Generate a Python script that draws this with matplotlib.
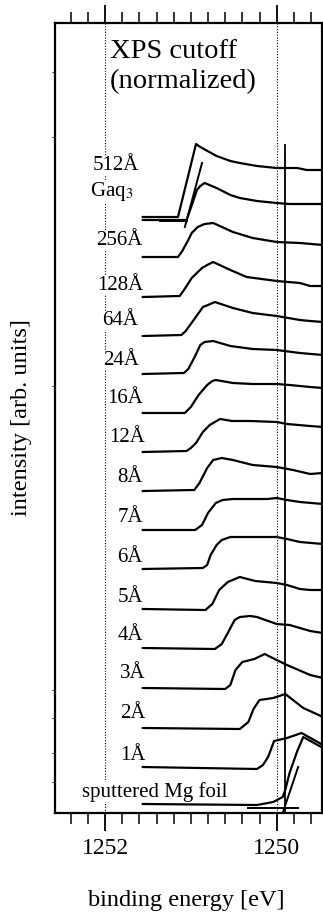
import matplotlib
matplotlib.use("Agg")
import matplotlib.pyplot as plt
from matplotlib.ticker import MultipleLocator, FixedLocator

plt.rcParams["font.family"] = ["Liberation Serif", "DejaVu Serif"]
plt.rcParams["mathtext.fontset"] = "stix"

# XPS cutoff spectra (normalized)
# energies in eV, intensities in arb. units above each curve's own baseline
e_512 = [1251.56, 1251.15, 1250.94, 1250.89, 1250.70, 1250.54, 1250.43, 1250.23, 1250.00, 1249.76, 1249.65, 1249.46]
i_512 = [0, 0, 73, 70, 61, 56, 54, 51, 49, 49, 47, 47]
e_gaq = [1251.56, 1251.05, 1250.98, 1250.93, 1250.89, 1250.84, 1250.70, 1250.54, 1250.43, 1250.23, 1250.00, 1249.85, 1249.46]
i_gaq = [0, 0, 17, 30, 34, 37, 32, 25, 22, 19, 17, 16, 16]
e_256 = [1251.56, 1251.15, 1251.10, 1251.03, 1250.99, 1250.92, 1250.84, 1250.74, 1250.51, 1250.28, 1250.00, 1249.73, 1249.46]
i_256 = [0, 0, 6, 17, 24, 30, 33, 34, 25, 19, 15, 14, 12]
e_128 = [1251.56, 1251.13, 1251.08, 1250.99, 1250.87, 1250.81, 1250.74, 1250.54, 1250.35, 1250.00, 1249.73, 1249.61, 1249.46]
i_128 = [0, 1, 7, 19, 29, 32, 35, 27, 20, 16, 14, 11, 11]
e_64 = [1251.56, 1251.11, 1251.06, 1250.95, 1250.86, 1250.80, 1250.72, 1250.51, 1250.28, 1250.00, 1249.73, 1249.61, 1249.46]
i_64 = [0, 1, 5, 18, 29, 31, 34, 28, 23, 20, 16, 15, 14]
e_24 = [1251.56, 1251.08, 1251.03, 1250.95, 1250.89, 1250.84, 1250.74, 1250.54, 1250.28, 1250.00, 1249.73, 1249.46]
i_24 = [0, 1, 5, 18, 29, 32, 33, 28, 25, 24, 21, 19]
e_16 = [1251.56, 1251.07, 1251.00, 1250.91, 1250.81, 1250.75, 1250.71, 1250.51, 1250.28, 1250.00, 1249.85, 1249.61, 1249.46]
i_16 = [0, 0, 6, 18, 28, 32, 33, 30, 29, 29, 28, 26, 25]
e_12 = [1251.56, 1251.05, 1251.00, 1250.94, 1250.86, 1250.78, 1250.66, 1250.52, 1250.31, 1250.00, 1249.88, 1249.61, 1249.46]
i_12 = [0, 1, 4, 9, 20, 27, 33, 31, 31, 30, 28, 26, 25]
e_8 = [1251.56, 1250.96, 1250.90, 1250.81, 1250.74, 1250.64, 1250.51, 1250.28, 1250.00, 1249.81, 1249.61, 1249.46]
i_8 = [0, 1, 8, 23, 31, 33, 31, 26, 24, 21, 17, 18]
e_7 = [1251.56, 1250.95, 1250.87, 1250.80, 1250.71, 1250.63, 1250.51, 1250.28, 1250.11, 1250.00, 1249.88, 1249.73, 1249.46]
i_7 = [0, 0, 5, 17, 27, 30, 31, 31, 31, 32, 30, 28, 26]
e_6 = [1251.56, 1250.86, 1250.81, 1250.77, 1250.70, 1250.64, 1250.54, 1250.28, 1250.00, 1249.88, 1249.73, 1249.46]
i_6 = [0, 1, 4, 14, 24, 29, 32, 32, 32, 30, 27, 25]
e_5 = [1251.56, 1250.83, 1250.75, 1250.67, 1250.57, 1250.43, 1250.25, 1250.00, 1249.88, 1249.73, 1249.61, 1249.46]
i_5 = [0, -1, 5, 19, 27, 32, 28, 26, 24, 20, 19, 19]
e_4 = [1251.56, 1250.72, 1250.64, 1250.57, 1250.49, 1250.43, 1250.31, 1250.23, 1250.00, 1249.85, 1249.61, 1249.46]
i_4 = [0, -1, 4, 15, 28, 31, 32, 31, 24, 23, 17, 15]
e_3 = [1251.56, 1250.60, 1250.54, 1250.48, 1250.40, 1250.26, 1250.14, 1250.00, 1249.88, 1249.61, 1249.46]
i_3 = [0, -1, 3, 18, 26, 29, 34, 28, 23, 13, 10]
e_2 = [1251.56, 1250.43, 1250.33, 1250.27, 1250.20, 1250.04, 1249.90, 1249.69, 1249.46]
i_2 = [0, -1, 6, 19, 28, 30, 34, 20, 11]
e_1 = [1251.56, 1250.23, 1250.16, 1250.10, 1250.03, 1249.88, 1249.71, 1249.46]
i_1 = [0, -2, 2, 10, 26, 29, 34, 22]
e_mg = [1251.56, 1250.23, 1250.04, 1249.93, 1249.90, 1249.85, 1249.76, 1249.69, 1249.46]
i_mg = [0, -1, 2, 7, 14, 31, 53, 67, 56]

spectra = [e_512, e_gaq, e_256, e_128, e_64, e_24, e_16, e_12, e_8, e_7, e_6, e_5, e_4, e_3, e_2, e_1, e_mg]
intensities = [i_512, i_gaq, i_256, i_128, i_64, i_24, i_16, i_12, i_8, i_7, i_6, i_5, i_4, i_3, i_2, i_1, i_mg]
offsets = [596, 593, 556, 516, 477, 439, 400, 361, 322, 283, 244, 204, 165, 125, 85, 46, 9]
labels = ["512Å", "Gaq$_3$", "256Å", "128Å", "64Å", "24Å", "16Å", "12Å", "8Å", "7Å", "6Å", "5Å", "4Å", "3Å", "2Å", "1Å", "sputtered Mg foil"]
label_e = [1251.61, 1251.67, 1251.56, 1251.56, 1251.62, 1251.61, 1251.56, 1251.53, 1251.56, 1251.56, 1251.56, 1251.56, 1251.56, 1251.53, 1251.53, 1251.53, 1252.27]
label_dy = [47, 24, 12, 7, 11, 9, 10, 10, 9, 8, 7, 7, 8, 10, 10, 7, 7]

# linear extrapolations of the onset (Gaq3 and Mg foil)
gaq_tan_e = [1251.07, 1250.87]
gaq_tan_i = [586, 650]
gaq_base_e = [1251.36, 1251.05]
gaq_base_i = [592, 592]
mg_tan_e = [1249.93, 1249.75]
mg_tan_i = [0, 46]
mg_base_e = [1250.33, 1249.75]
mg_base_i = [5, 5]
mg_cutoff = 1249.90

fig = plt.figure(figsize=(3.23, 9.14), dpi=100)
ax = fig.add_axes([55 / 323, 101 / 914, 267 / 323, 790 / 914])

ax.axvline(1252, color="black", lw=0.8, ls=(0, (1, 1.5)), zorder=0)
ax.axvline(1250, color="black", lw=0.8, ls=(0, (1, 1.5)), zorder=0)

for e, i, off in zip(spectra, intensities, offsets):
    ax.plot(e, [v + off for v in i], color="black", lw=1.6, solid_joinstyle="round", zorder=2)

ax.plot(gaq_tan_e, gaq_tan_i, color="black", lw=1.4, zorder=2)
ax.plot(gaq_base_e, gaq_base_i, color="black", lw=1.4, zorder=2)
ax.plot(mg_tan_e, mg_tan_i, color="black", lw=1.4, zorder=2)
ax.plot(mg_base_e, mg_base_i, color="black", lw=1.4, zorder=2)
ax.plot([mg_cutoff, mg_cutoff], [0, 668], color="black", lw=1.3, zorder=2)

# curve labels (Mg foil label is left aligned, the rest right aligned)
for lab, xe, dy, off in zip(labels, label_e, label_dy, offsets):
    ha = "left" if lab.startswith("sputtered") else "right"
    ax.text(xe, off + dy, lab, ha=ha, va="baseline", fontsize=15,
            bbox=dict(facecolor="white", edgecolor="none", pad=0.3), zorder=3)

fig.text(110 / 323, 1 - 58 / 914, "XPS cutoff", fontsize=20.5, va="baseline")
fig.text(110 / 323, 1 - 88 / 914, "(normalized)", fontsize=20.5, va="baseline")

ax.set_xlim(1252.583, 1249.472)
ax.set_ylim(0, 790)
ax.xaxis.set_major_locator(FixedLocator([1252, 1250]))
ax.xaxis.set_minor_locator(MultipleLocator(0.2))
ax.set_xticklabels(["1252", "1250"])
ax.yaxis.set_major_locator(FixedLocator([31, 60, 95, 123, 427, 676, 741]))
ax.set_yticklabels([])
ax.tick_params(axis="x", which="major", direction="out", length=13, width=1.3,
               top=True, labelsize=17, pad=5)
ax.tick_params(axis="x", which="minor", direction="out", length=8, width=1.1, top=True)
ax.tick_params(axis="y", which="major", direction="out", length=2.5, width=0.6)
for s in ax.spines.values():
    s.set_linewidth(1.6)

fig.text(186.5 / 323, 8 / 914, "binding energy [eV]", fontsize=17.5, ha="center", va="baseline")
fig.text(22 / 323, 1 - 418 / 914, "intensity [arb. units]", fontsize=17.5, rotation=90,
         ha="center", va="center")

fig.savefig("out.png", dpi=100)
